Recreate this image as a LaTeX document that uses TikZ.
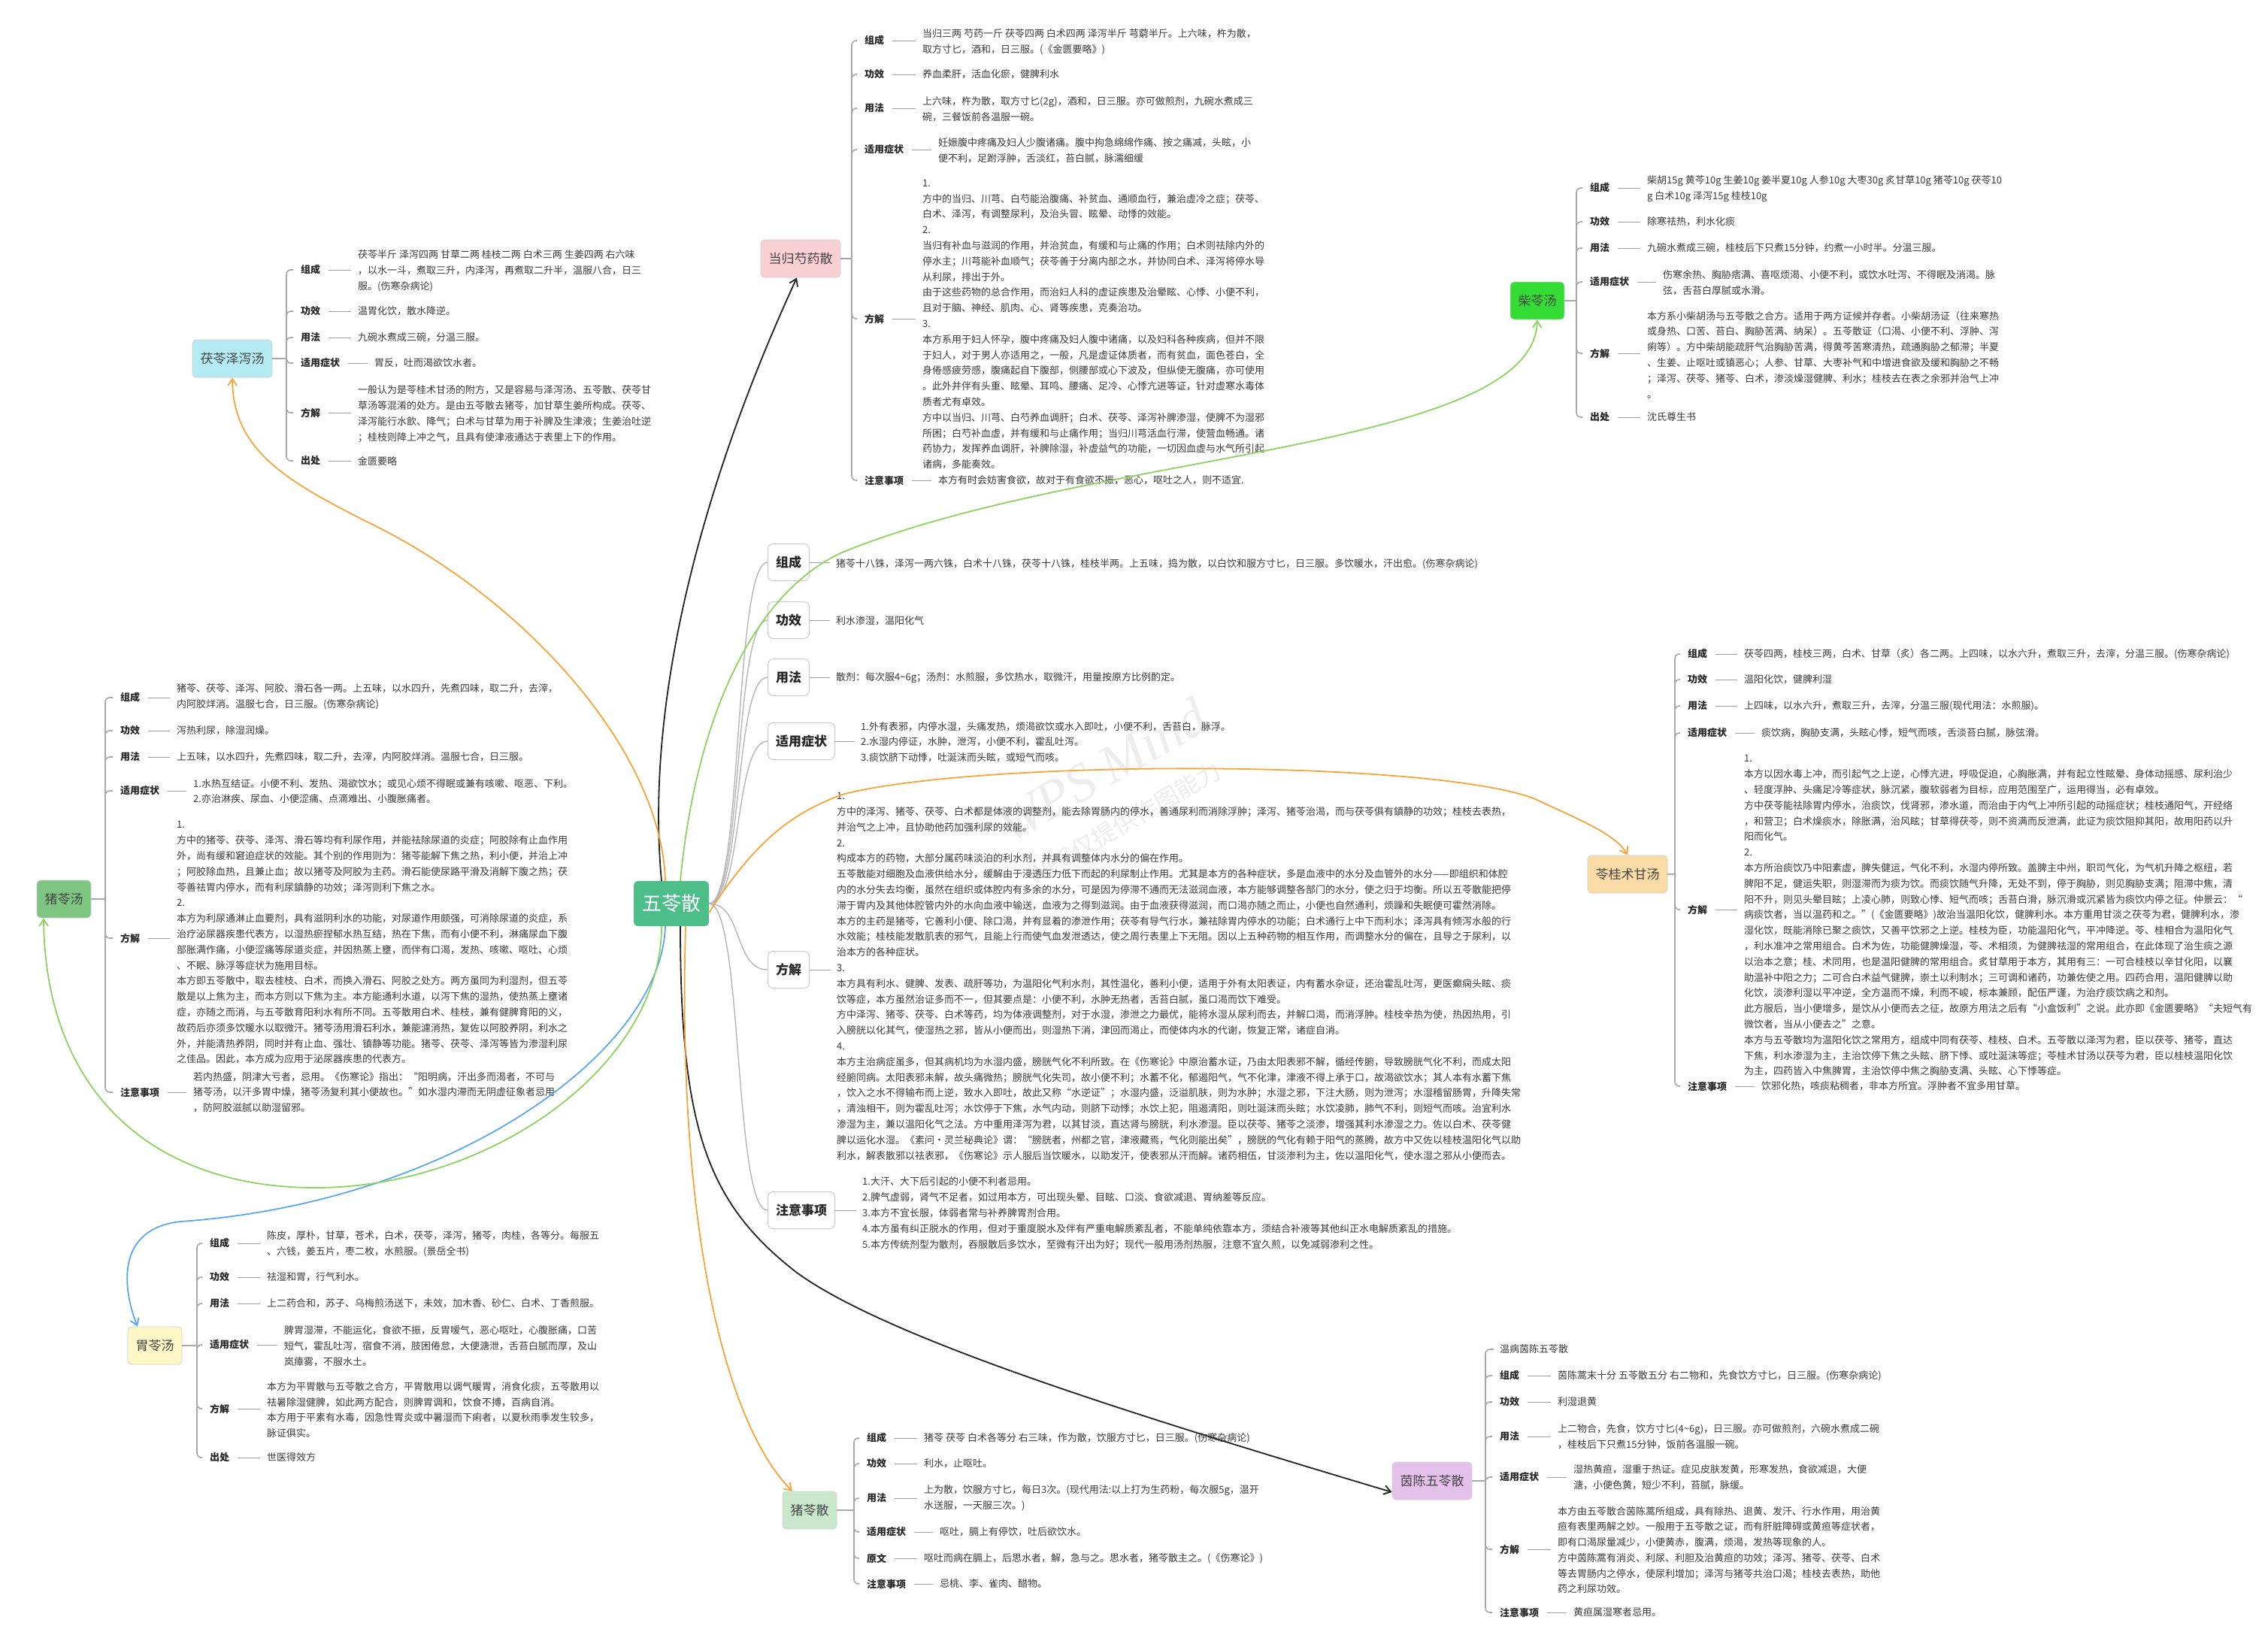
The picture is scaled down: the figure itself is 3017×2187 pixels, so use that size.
\documentclass[tikz,border=0pt]{standalone}
\usepackage{fontspec}
\setmainfont{Noto Sans CJK SC}
\newfontfamily\wmfont{Liberation Serif}
\usetikzlibrary{arrows.meta}
\definecolor{txtc}{HTML}{3A3A3A}
\definecolor{lblc}{HTML}{262626}
\definecolor{satc}{HTML}{444444}
\definecolor{brkc}{HTML}{A8A8A8}
\definecolor{dshc}{HTML}{A0A0A0}
\definecolor{gconc}{HTML}{B6B6B6}
\definecolor{wuc}{HTML}{4DBD8A}
\definecolor{cyanbox}{HTML}{B4EBF3}
\definecolor{pinkbox}{HTML}{F8D0D4}
\definecolor{limebox}{HTML}{33DD33}
\definecolor{orbox}{HTML}{FCDCA6}
\definecolor{lavbox}{HTML}{E3C1EA}
\definecolor{pgbox}{HTML}{C9E7CB}
\definecolor{ylbox}{HTML}{FFF8C6}
\definecolor{grbox}{HTML}{7DC581}
\definecolor{cBlack}{HTML}{222222}
\definecolor{cLime}{HTML}{8DD35F}
\definecolor{cOrange}{HTML}{F7A43A}
\definecolor{cBlue}{HTML}{5BA7F0}
\newcommand\ftxt{\fontsize{13}{20.8}\selectfont}
\newcommand\flbl{\fontsize{13}{16}\selectfont\bfseries}
\newcommand\fsat{\fontsize{17}{20}\selectfont}
\newcommand\fmid{\fontsize{17}{20}\selectfont\bfseries}
\newcommand\fcen{\fontsize{26}{30}\selectfont}
\newcommand\mmjunc[3]{\coordinate (#1j) at (#2,#3); \draw[brk] (#1.east) -- (#1j);}
\newcommand\mmkid[8]{%
  \node[lbl,anchor=west] (#1) at (#3-2,#4) {#7};
  \node[txt,anchor=west] (#1t) at (#3+#5,#6) {#8};
  \draw[brk,rounded corners=6pt,shorten >=8pt] (#2) |- (#1.west);
  \draw[dsh,shorten <=9pt,shorten >=9pt] (#1.east) -- (#1.east -| #1t.west);
}
\newcommand\mmcen[6]{%
  \node[mbox,anchor=west] (#1) at (1021,#2) {#5};
  \node[txt,anchor=west] (#1t) at (#3,#4) {#6};
  \draw[gcon] (w.east) .. controls +(45,0) and +(-45,0) .. (#1.west);
  \draw[dsh,shorten >=8pt] (#1.east) -- (#1.east -| #1t.west);
}
\begin{document}
\begin{tikzpicture}[x=1pt,y=-1pt,
  txt/.style={inner sep=0pt, align=left, text=txtc, font=\ftxt},
  lbl/.style={inner sep=2pt, text=lblc, font=\flbl},
  brk/.style={draw=brkc, line width=1.6pt},
  dsh/.style={draw=dshc, line width=1pt},
  gcon/.style={draw=gconc, line width=1.4pt},
  sbox/.style={draw=black!18, line width=0.8pt, rounded corners=5pt, minimum height=50pt, inner xsep=10.5pt, inner ysep=0pt, font=\fsat, text=satc},
  mbox/.style={draw=black!20, line width=1pt, fill=white, rounded corners=7pt, minimum height=49pt, inner xsep=10.5pt, inner ysep=0pt, font=\fmid, text=lblc},
  wbox/.style={fill=wuc, rounded corners=6pt, minimum width=100pt, minimum height=60pt, font=\fcen, text=white},
  conn/.style={line width=1.8pt, -{Straight Barb[length=9pt,width=12pt,line width=1.8pt]}}
]
\useasboundingbox[fill=white] (0,0) rectangle (3017,2187);
% watermark
\node[rotate=30, text=black!7, font=\wmfont\itshape\fontsize{72}{80}\selectfont] (wm1) at (1465,1025) {WPS Mind};
\node[rotate=30, text=black!7, font=\fontsize{32}{36}\selectfont] (wm2) at (1495,1095) {WPS仅提供作图能力};

% central node
\node[wbox] (w) at (893,1202) {五苓散};

% satellites
\node[sbox, fill=cyanbox] (fz) at (309,477) {茯苓泽泻汤};
\node[sbox, fill=pinkbox] (dg) at (1065,344) {当归芍药散};
\node[sbox, fill=limebox] (cl) at (2045,400) {柴苓汤};
\node[sbox, fill=orbox] (lg) at (2165,1163) {苓桂术甘汤};
\node[sbox, fill=lavbox] (yn) at (1905,1970) {茵陈五苓散};
\node[sbox, fill=pgbox] (zs) at (1077,2009) {猪苓散};
\node[sbox, fill=ylbox] (wl) at (206,1790) {胃苓汤};
\node[sbox, fill=grbox] (zt) at (85,1196) {猪苓汤};

% center children
\mmcen{ma}{748}{1112}{750}{组成}{猪苓十八铢，泽泻一两六铢，白术十八铢，茯苓十八铢，桂枝半两。上五味，捣为散，以白饮和服方寸匕，日三服。多饮暖水，汗出愈。(伤寒杂病论)}
\mmcen{mb}{825}{1112}{826}{功效}{利水渗湿，温阳化气}
\mmcen{mc}{901}{1112}{902}{用法}{散剂：每次服4\textasciitilde6g；汤剂：水煎服，多饮热水，取微汗，用量按原方比例酌定。}
\mmcen{md}{986}{1145}{987}{适用症状}{1.外有表邪，内停水湿，头痛发热，烦渴欲饮或水入即吐，小便不利，舌苔白，脉浮。\\2.水湿内停证，水肿，泄泻，小便不利，霍乱吐泻。\\3.痰饮脐下动悸，吐涎沫而头眩，或短气而咳。}
\mmcen{me}{1290}{1113}{1299}{方解}{1.\\
方中的泽泻、猪苓、茯苓、白术都是体液的调整剂，能去除胃肠内的停水，善通尿利而消除浮肿；泽泻、猪苓治渴，而与茯苓俱有鎮静的功效；桂枝去表热，\\
并治气之上冲，且协助他药加强利尿的效能。\\
2.\\
构成本方的药物，大部分属药味淡泊的利水剂，并具有调整体内水分的偏在作用。\\
五苓散能对细胞及血液供给水分，缓解由于浸透压力低下而起的利尿制止作用。尤其是本方的各种症状，多是血液中的水分及血管外的水分——即组织和体腔\\
内的水分失去均衡，虽然在组织或体腔内有多余的水分，可是因为停滞不通而无法滋润血液，本方能够调整各部门的水分，使之归于均衡。所以五苓散能把停\\
滞于胃内及其他体腔管内外的水向血液中输送，血液为之得到滋润。由于血液获得滋润，而口渴亦随之而止，小便也自然通利，烦躁和失眠便可霍然消除。\\
本方的主药是猪苓，它善利小便、除口渴，并有显着的渗泄作用；茯苓有导气行水，兼祛除胃内停水的功能；白术通行上中下而利水；泽泻具有倾泻水般的行\\
水效能；桂枝能发散肌表的邪气，且能上行而使气血发泄透达，使之周行表里上下无阻。因以上五种药物的相互作用，而调整水分的偏在，且导之于尿利，以\\
治本方的各种症状。\\
3.\\
本方具有利水、健脾、发表、疏肝等功，为温阳化气利水剂，其性温化，善利小便，适用于外有太阳表证，内有蓄水杂证，还治霍乱吐泻，更医癫痫头眩、痰\\
饮等症，本方虽然治证多而不一，但其要点是：小便不利，水肿无热者，舌苔白腻，虽口渴而饮下难受。\\
方中泽泻、猪苓、茯苓、白术等药，均为体液调整剂，对于水湿，渗泄之力最优，能将水湿从尿利而去，并解口渴，而消浮肿。桂枝辛热为使，热因热用，引\\
入膀胱以化其气，使湿热之邪，皆从小便而出，则湿热下消，津回而渴止，而使体内水的代谢，恢复正常，诸症自消。\\
4.\\
本方主治病症虽多，但其病机均为水湿内盛，膀胱气化不利所致。在《伤寒论》中原治蓄水证，乃由太阳表邪不解，循经传腑，导致膀胱气化不利，而成太阳\\
经腑同病。太阳表邪未解，故头痛微热；膀胱气化失司，故小便不利；水蓄不化，郁遏阳气，气不化津，津液不得上承于口，故渴欲饮水；其人本有水蓄下焦\\
，饮入之水不得输布而上逆，致水入即吐，故此又称“水逆证”；水湿内盛，泛溢肌肤，则为水肿；水湿之邪，下注大肠，则为泄泻；水湿稽留肠胃，升降失常\\
，清浊相干，则为霍乱吐泻；水饮停于下焦，水气内动，则脐下动悸；水饮上犯，阻遏清阳，则吐涎沫而头眩；水饮凌肺，肺气不利，则短气而咳。治宜利水\\
渗湿为主，兼以温阳化气之法。方中重用泽泻为君，以其甘淡，直达肾与膀胱，利水渗湿。臣以茯苓、猪苓之淡渗，增强其利水渗湿之力。佐以白术、茯苓健\\
脾以运化水湿。《素问·灵兰秘典论》谓：“膀胱者，州都之官，津液藏焉，气化则能出矣”，膀胱的气化有赖于阳气的蒸腾，故方中又佐以桂枝温阳化气以助\\
利水，解表散邪以祛表邪，《伤寒论》示人服后当饮暖水，以助发汗，使表邪从汗而解。诸药相伍，甘淡渗利为主，佐以温阳化气，使水湿之邪从小便而去。}
\mmcen{mf}{1610}{1147}{1614}{注意事项}{1.大汗、大下后引起的小便不利者忌用。\\
2.脾气虚弱，肾气不足者，如过用本方，可出现头晕、目眩、口淡、食欲减退、胃纳差等反应。\\
3.本方不宜长服，体弱者常与补养脾胃剂合用。\\
4.本方虽有纠正脱水的作用，但对于重度脱水及伴有严重电解质紊乱者，不能单纯依靠本方，须结合补液等其他纠正水电解质紊乱的措施。\\
5.本方传统剂型为散剂，吞服散后多饮水，至微有汗出为好；现代一般用汤剂热服，注意不宜久煎，以免减弱渗利之性。}

% 茯苓泽泻汤
\mmjunc{fz}{381}{477}
\mmkid{fa}{fzj}{400}{359}{76}{360.5}{组成}{茯苓半斤 泽泻四两 甘草二两 桂枝二两 白术三两 生姜四两 右六味\\，以水一斗，煮取三升，内泽泻，再煮取二升半，温服八合，日三\\服。(伤寒杂病论)}
\mmkid{fb}{fzj}{400}{414}{76}{414}{功效}{温胃化饮，散水降逆。}
\mmkid{fc}{fzj}{400}{449}{76}{449}{用法}{九碗水煮成三碗，分温三服。}
\mmkid{fd}{fzj}{400}{483}{98}{483}{适用症状}{胃反，吐而渴欲饮水者。}
\mmkid{fe}{fzj}{400}{549}{76}{550.5}{方解}{一般认为是苓桂术甘汤的附方，又是容易与泽泻汤、五苓散、茯苓甘\\草汤等混淆的处方。是由五苓散去猪苓，加甘草生姜所构成。茯苓、\\泽泻能行水飲、降气；白术与甘草为用于补脾及生津液；生姜治吐逆\\；桂枝则降上冲之气，且具有使津液通达于表里上下的作用。}
\mmkid{ff}{fzj}{400}{613}{76}{613}{出处}{金匮要略}

% 当归芍药散
\mmjunc{dg}{1133}{344}
\mmkid{da}{dgj}{1150}{54}{77}{55.5}{组成}{当归三两 芍药一斤 茯苓四两 白术四两 泽泻半斤 芎藭半斤。上六味，杵为散，\\取方寸匕，酒和，日三服。(《金匮要略》)}
\mmkid{db}{dgj}{1150}{99}{77}{99}{功效}{养血柔肝，活血化瘀，健脾利水}
\mmkid{dc}{dgj}{1150}{144}{77}{145}{用法}{上六味，杵为散，取方寸匕(2g)，酒和，日三服。亦可做煎剂，九碗水煮成三\\碗，三餐饭前各温服一碗。}
\mmkid{dd}{dgj}{1150}{199}{98}{200.5}{适用症状}{妊娠腹中疼痛及妇人少腹诸痛。腹中拘急绵绵作痛、按之痛减，头眩，小\\便不利，足跗浮肿，舌淡红，苔白腻，脉濡细缓}
\mmkid{de}{dgj}{1150}{424}{77}{431.5}{方解}{1.\\
方中的当归、川芎、白芍能治腹痛、补贫血、通顺血行，兼治虚冷之症；茯苓、\\
白术、泽泻，有调整尿利，及治头冒、眩晕、动悸的效能。\\
2.\\
当归有补血与滋润的作用，并治贫血，有缓和与止痛的作用；白术则祛除内外的\\
停水主；川芎能补血顺气；茯苓善于分离内部之水，并协同白术、泽泻将停水导\\
从利尿，排出于外。\\
由于这些药物的总合作用，而治妇人科的虚证疾患及治晕眩、心悸、小便不利，\\
且对于脑、神经、肌肉、心、肾等疾患，克奏治功。\\
3.\\
本方系用于妇人怀孕，腹中疼痛及妇人腹中诸痛，以及妇科各种疾病，但并不限\\
于妇人，对于男人亦适用之，一般，凡是虚证体质者，而有贫血，面色苍白，全\\
身倦感疲劳感，腹痛起自下腹部，侧腰部或心下波及，但纵使无腹痛，亦可使用\\
。此外并伴有头重、眩晕、耳鸣、腰痛、足冷、心悸亢进等证，针对虚寒水毒体\\
质者尤有卓效。\\
方中以当归、川芎、白芍养血调肝；白术、茯苓、泽泻补脾渗湿，使脾不为湿邪\\
所困；白芍补血虚，并有缓和与止痛作用；当归川芎活血行滞，使营血畅通。诸\\
药协力，发挥养血调肝，补脾除湿，补虚益气的功能，一切因血虚与水气所引起\\
诸病，多能奏效。}
\mmkid{df}{dgj}{1150}{639}{98}{639}{注意事项}{本方有时会妨害食欲，故对于有食欲不振，恶心，呕吐之人，则不适宜.}

% 柴苓汤
\mmjunc{cl}{2097}{400}
\mmkid{ca}{clj}{2115}{250}{76}{251.5}{组成}{柴胡15g 黄芩10g 生姜10g 姜半夏10g 人参10g 大枣30g 炙甘草10g 猪苓10g 茯苓10\\g 白术10g 泽泻15g 桂枝10g}
\mmkid{cb}{clj}{2115}{295}{76}{295}{功效}{除寒祛热，利水化痰}
\mmkid{cc}{clj}{2115}{330}{76}{330}{用法}{九碗水煮成三碗，桂枝后下只煮15分钟，约煮一小时半。分温三服。}
\mmkid{cd}{clj}{2115}{375}{97}{376.5}{适用症状}{伤寒余热、胸胁痞满、喜呕烦渴、小便不利，或饮水吐泻、不得眠及消渴。脉\\弦，舌苔白厚腻或水滑。}
\mmkid{ce}{clj}{2115}{470}{76}{472}{方解}{本方系小柴胡汤与五苓散之合方。适用于两方证候并存者。小柴胡汤证（往来寒热\\
或身热、口苦、苔白、胸胁苦满、纳呆）。五苓散证（口渴、小便不利、浮肿、泻\\
痢等）。方中柴胡能疏肝气治胸胁苦满，得黄芩苦寒清热，疏通胸胁之郁滞；半夏\\
、生姜、止呕吐或镇恶心；人参、甘草、大枣补气和中增进食欲及缓和胸胁之不畅\\
；泽泻、茯苓、猪苓、白术，渗淡燥湿健脾、利水；桂枝去在表之余邪并治气上冲\\
。}
\mmkid{cf}{clj}{2115}{555}{76}{555}{出处}{沈氏尊生书}

% 苓桂术甘汤
\mmjunc{lg}{2228}{1163}
\mmkid{la}{lgj}{2245}{870}{75}{870}{组成}{茯苓四两，桂枝三两，白术、甘草（炙）各二两。上四味，以水六升，煮取三升，去滓，分温三服。(伤寒杂病论)}
\mmkid{lb}{lgj}{2245}{904}{75}{904}{功效}{温阳化饮，健脾利湿}
\mmkid{lc}{lgj}{2245}{939}{75}{939}{用法}{上四味，以水六升，煮取三升，去滓，分温三服(现代用法：水煎服)。}
\mmkid{ld}{lgj}{2245}{975}{98}{975}{适用症状}{痰饮病，胸胁支满，头眩心悸，短气而咳，舌淡苔白腻，脉弦滑。}
\mmkid{le}{lgj}{2245}{1210}{75}{1218}{方解}{1.\\
本方以因水毒上冲，而引起气之上逆，心悸亢进，呼吸促迫，心胸胀满，并有起立性眩晕、身体动摇感、尿利治少\\
、轻度浮肿、头痛足冷等症状，脉沉紧，腹软弱者为目标，应用范围至广，运用得当，必有卓效。\\
方中茯苓能祛除胃内停水，治痰饮，伐肾邪，渗水道，而治由于内气上冲所引起的动摇症状；桂枝通阳气，开经络\\
，和营卫；白术燥痰水，除胀满，治风眩；甘草得茯苓，则不资满而反泄满，此证为痰饮阻抑其阳，故用阳药以升\\
阳而化气。\\
2.\\
本方所治痰饮乃中阳素虚，脾失健运，气化不利，水湿内停所致。盖脾主中州，职司气化，为气机升降之枢纽，若\\
脾阳不足，健运失职，则湿滞而为痰为饮。而痰饮随气升降，无处不到，停于胸胁，则见胸胁支满；阻滞中焦，清\\
阳不升，则见头晕目眩；上凌心肺，则致心悸、短气而咳；舌苔白滑，脉沉滑或沉紧皆为痰饮内停之征。仲景云：“\\
病痰饮者，当以温药和之。”(《金匮要略》)故治当温阳化饮，健脾利水。本方重用甘淡之茯苓为君，健脾利水，渗\\
湿化饮，既能消除已聚之痰饮，又善平饮邪之上逆。桂枝为臣，功能温阳化气，平冲降逆。苓、桂相合为温阳化气\\
，利水准冲之常用组合。白术为佐，功能健脾燥湿，苓、术相须，为健脾祛湿的常用组合，在此体现了治生痰之源\\
以治本之意；桂、术同用，也是温阳健脾的常用组合。炙甘草用于本方，其用有三：一可合桂枝以辛甘化阳，以襄\\
助温补中阳之力；二可合白术益气健脾，崇土以利制水；三可调和诸药，功兼佐使之用。四药合用，温阳健脾以助\\
化饮，淡渗利湿以平冲逆，全方温而不燥，利而不峻，标本兼顾，配伍严谨，为治疗痰饮病之和剂。\\
此方服后，当小便增多，是饮从小便而去之征，故原方用法之后有“小盒饭利”之说。此亦即《金匮要略》“夫短气有\\
微饮者，当从小便去之”之意。\\
本方与五苓散均为温阳化饮之常用方，组成中同有茯苓、桂枝、白术。五苓散以泽泻为君，臣以茯苓、猪苓，直达\\
下焦，利水渗湿为主，主治饮停下焦之头眩、脐下悸、或吐涎沫等症；苓桂术甘汤以茯苓为君，臣以桂枝温阳化饮\\
为主，四药皆入中焦脾胃，主治饮停中焦之胸胁支满、头眩、心下悸等症。}
\mmkid{lf}{lgj}{2245}{1445}{98}{1445}{注意事项}{饮邪化热，咳痰粘稠者，非本方所宜。浮肿者不宜多用甘草。}

% 茵陈五苓散
\mmjunc{yn}{1976}{1970}
\node[txt,anchor=west] (y0) at (1995,1795) {温病茵陈五苓散};
\draw[brk,rounded corners=6pt,shorten >=8pt] (ynj) |- (y0.west);
\mmkid{ya}{ynj}{1995}{1830}{77}{1830}{组成}{茵陈蒿末十分 五苓散五分 右二物和，先食饮方寸匕，日三服。(伤寒杂病论)}
\mmkid{yb}{ynj}{1995}{1865}{77}{1865}{功效}{利湿退黄}
\mmkid{yc}{ynj}{1995}{1911}{77}{1911.5}{用法}{上二物合，先食，饮方寸匕(4\textasciitilde6g)，日三服。亦可做煎剂，六碗水煮成二碗\\，桂枝后下只煮15分钟，饭前各温服一碗。}
\mmkid{yd}{ynj}{1995}{1965}{98}{1965.5}{适用症状}{湿热黄疸，湿重于热证。症见皮肤发黄，形寒发热，食欲减退，大便\\溏，小便色黄，短少不利，苔腻，脉缓。}
\mmkid{ye}{ynj}{1995}{2061}{77}{2062}{方解}{本方由五苓散合茵陈蒿所组成，具有除热、退黄、发汗、行水作用，用治黄\\
疸有表里两解之妙。一般用于五苓散之证，而有肝脏障碍或黄疸等症状者，\\
即有口渴尿量减少，小便黄赤，腹满，烦渴，发热等现象的人。\\
方中茵陈蒿有消炎、利尿、利胆及治黄疸的功效；泽泻、猪苓、茯苓、白术\\
等去胃肠内之停水，使尿利增加；泽泻与猪苓共治口渴；桂枝去表热，助他\\
药之利尿功效。}
\mmkid{yf}{ynj}{1995}{2145}{98}{2145}{注意事项}{黄疸属湿寒者忌用。}

% 猪苓散
\mmjunc{zs}{1136}{2009}
\mmkid{sa}{zsj}{1153}{1913}{76}{1913}{组成}{猪苓 茯苓 白术各等分 右三味，作为散，饮服方寸匕，日三服。(伤寒杂病论)}
\mmkid{sb}{zsj}{1153}{1947}{76}{1947}{功效}{利水，止呕吐。}
\mmkid{sc}{zsj}{1153}{1993}{76}{1993}{用法}{上为散，饮服方寸匕，每日3次。(现代用法:以上打为生药粉，每次服5g，温开\\水送服，一天服三次。)}
\mmkid{sd}{zsj}{1153}{2038}{97}{2038}{适用症状}{呕吐，膈上有停饮，吐后欲饮水。}
\mmkid{se}{zsj}{1153}{2073}{76}{2073}{原文}{呕吐而病在膈上，后思水者，解，急与之。思水者，猪苓散主之。(《伤寒论》)}
\mmkid{sf}{zsj}{1153}{2107}{97}{2107}{注意事项}{忌桃、李、雀肉、醋物。}

% 胃苓汤
\mmjunc{wl}{262}{1790}
\mmkid{wa}{wlj}{279}{1654}{76}{1654.5}{组成}{陈皮，厚朴，甘草，苍术，白术，茯苓，泽泻，猪苓，肉桂，各等分。每服五\\、六钱，姜五片，枣二枚，水煎服。(景岳全书)}
\mmkid{wb}{wlj}{279}{1699}{76}{1699}{功效}{祛湿和胃，行气利水。}
\mmkid{wc}{wlj}{279}{1734}{76}{1734}{用法}{上二药合和，苏子、乌梅煎汤送下，未效，加木香、砂仁、白术、丁香煎服。}
\mmkid{wd}{wlj}{279}{1789}{99}{1790.5}{适用症状}{脾胃湿滞，不能运化，食欲不振，反胃嗳气，恶心呕吐，心腹胀痛，口苦\\短气，霍乱吐泻，宿食不消，肢困倦怠，大便溏泄，舌苔白腻而厚，及山\\岚瘴雾，不服水土。}
\mmkid{we}{wlj}{279}{1874}{76}{1875.5}{方解}{本方为平胃散与五苓散之合方，平胃散用以调气暖胃，消食化痰，五苓散用以\\祛暑除湿健脾，如此两方配合，则脾胃调和，饮食不搏，百病自消。\\本方用于平素有水毒，因急性胃炎或中暑湿而下痢者，以夏秋雨季发生较多，\\脉证俱实。}
\mmkid{wf}{wlj}{279}{1939}{76}{1939}{出处}{世医得效方}

% 猪苓汤
\mmjunc{zt}{140}{1196}
\mmkid{za}{ztj}{160}{928}{75}{927}{组成}{猪苓、茯苓、泽泻、阿胶、滑石各一两。上五味，以水四升，先煮四味，取二升，去滓，\\内阿胶烊消。温服七合，日三服。(伤寒杂病论)}
\mmkid{zb}{ztj}{160}{972}{75}{972}{功效}{泻热利尿，除湿润燥。}
\mmkid{zc}{ztj}{160}{1007}{75}{1007}{用法}{上五味，以水四升，先煮四味，取二升，去滓，内阿胶烊消。温服七合，日三服。}
\mmkid{zd}{ztj}{160}{1052}{97}{1052.5}{适用症状}{1.水热互结证。小便不利、发热、渴欲饮水；或见心烦不得眠或兼有咳嗽、呕恶、下利。\\2.亦治淋疾、尿血、小便涩痛、点滴难出、小腹胀痛者。}
\mmkid{ze}{ztj}{160}{1248}{75}{1254}{方解}{1.\\
方中的猪苓、茯苓、泽泻、滑石等均有利尿作用，并能祛除尿道的炎症；阿胶除有止血作用\\
外，尚有缓和窘迫症状的效能。其个别的作用则为：猪苓能解下焦之热，利小便，并治上冲\\
；阿胶除血热，且兼止血；故以猪苓及阿胶为主药。滑石能使尿路平滑及消解下腹之热；茯\\
苓善祛胃内停水，而有利尿鎮静的功效；泽泻则利下焦之水。\\
2.\\
本方为利尿通淋止血要剂，具有滋阴利水的功能，对尿道作用颇强，可消除尿道的炎症，系\\
治疗泌尿器疾患代表方，以湿热瘀捏郁水热互结，热在下焦，而有小便不利，淋痛尿血下腹\\
部胀满作痛，小便涩痛等尿道炎症，并因热蒸上壅，而伴有口渴，发热、咳嗽、呕吐、心烦\\
、不眠、脉浮等症状为施用目标。\\
本方即五苓散中，取去桂枝、白术，而换入滑石、阿胶之处方。两方虽同为利湿剂，但五苓\\
散是以上焦为主，而本方则以下焦为主。本方能通利水道，以泻下焦的湿热，使热蒸上壅诸\\
症，亦随之而消，与五苓散育阳利水有所不同。五苓散用白术、桂枝，兼有健脾育阳的义，\\
故药后亦须多饮暖水以取微汗。猪苓汤用滑石利水，兼能濾消热，复佐以阿胶养阴，利水之\\
外，并能清热养阴，同时并有止血、强壮、镇静等功能。猪苓、茯苓、泽泻等皆为渗湿利尿\\
之佳品。因此，本方成为应用于泌尿器疾患的代表方。}
\mmkid{zf}{ztj}{160}{1453}{97}{1453}{注意事项}{若内热盛，阴津大亏者，忌用。《伤寒论》指出：“阳明病，汗出多而渴者，不可与\\猪苓汤，以汗多胃中燥，猪苓汤复利其小便故也。”如水湿内滞而无阴虚征象者忌用\\，防阿胶滋腻以助湿留邪。}

% satellite connectors
\draw[conn, cBlack] ([xshift=-13]w.north) .. controls (850,850) and (1000,500) .. ([xshift=-5]dg.south);
\draw[conn, cLime] ([xshift=12]w.north) .. controls (925,960) and (1000,790) .. (1120,735) .. controls (1450,600) and (2040,600) .. (cl.south);
\draw[conn, cOrange] ([yshift=-12]w.east) .. controls (1010,1110) and (1060,1080) .. (1120,1057) .. controls (1300,1010) and (1900,1010) .. (2040,1062) .. controls (2100,1090) and (2150,1110) .. (lg.north);
\draw[conn, cBlack] ([xshift=12]w.south) .. controls (905,1500) and (940,1600) .. (1060,1693) .. controls (1180,1780) and (1500,1880) .. ([yshift=-15]yn.west);
\draw[conn, cOrange] ([xshift=19]w.south) .. controls (900,1650) and (970,1900) .. ([xshift=-23]zs.north);
\draw[conn, cBlue] ([xshift=-8]w.south) .. controls (880,1400) and (600,1600) .. (240,1625) .. controls (150,1635) and (165,1720) .. ([xshift=-23]wl.north);
\draw[conn, cLime] ([xshift=-13]w.south) .. controls (880,1420) and (650,1580) .. (420,1580) .. controls (200,1580) and (60,1450) .. ([xshift=-27]zt.south);
\draw[conn, cOrange] ([xshift=-8]w.north) .. controls (880,1000) and (700,800) .. (500,700) .. controls (380,640) and (310,600) .. (fz.south);
\end{tikzpicture}
\end{document}
